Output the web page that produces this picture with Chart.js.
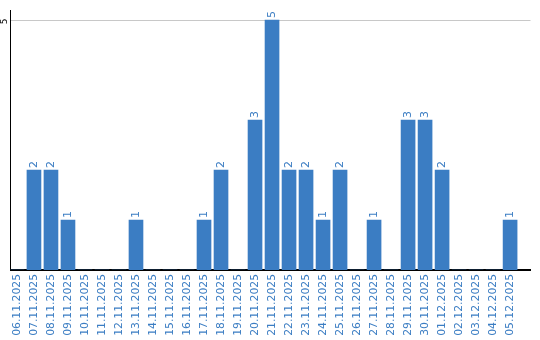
<!DOCTYPE html>
<html>
<head>
<meta charset="utf-8">
<script src="https://cdn.jsdelivr.net/npm/chart.js@4/dist/chart.umd.min.js"></script>
<style>
html,body{margin:0;padding:0;background:#fff;}
canvas{display:block;}
</style>
</head>
<body>
<canvas id="c" width="540" height="340"></canvas>
<script>
const categories = ["06.11.2025","07.11.2025","08.11.2025","09.11.2025","10.11.2025","11.11.2025","12.11.2025","13.11.2025","14.11.2025","15.11.2025","16.11.2025","17.11.2025","18.11.2025","19.11.2025","20.11.2025","21.11.2025","22.11.2025","23.11.2025","24.11.2025","25.11.2025","26.11.2025","27.11.2025","28.11.2025","29.11.2025","30.11.2025","01.12.2025","02.12.2025","03.12.2025","04.12.2025","05.12.2025"];
const values = [0,2,2,1,0,0,0,1,0,0,0,1,2,0,3,5,2,2,1,2,0,1,0,3,3,2,0,0,0,1];
const yTicks = [5];

const BLUE = '#3b7dc3';
const FONT = 'DejaVu Sans';

const valueLabels = {
  id: 'valueLabels',
  afterDatasetsDraw(chart) {
    const ctx = chart.ctx;
    const meta = chart.getDatasetMeta(0);
    ctx.save();
    ctx.fillStyle = BLUE;
    ctx.font = '11px "' + FONT + '"';
    ctx.textAlign = 'left';
    ctx.textBaseline = 'middle';
    meta.data.forEach((el, i) => {
      const v = values[i];
      if (!v) return;
      ctx.save();
      ctx.translate(el.x, el.y - 2);
      ctx.rotate(-Math.PI / 2);
      ctx.fillText(String(v), 0, 0);
      ctx.restore();
    });
    ctx.restore();
  }
};

new Chart(document.getElementById('c'), {
  type: 'bar',
  data: {
    datasets: [{
      data: values.map((v, i) => ({x: i, y: v})),
      backgroundColor: BLUE,
      borderWidth: 0,
      barThickness: 14
    }]
  },
  options: {
    responsive: false,
    animation: false,
    layout: {padding: {top: 10, right: 9.5, left: 0, bottom: 0}},
    plugins: {legend: {display: false}, tooltip: {enabled: false}},
    scales: {
      x: {
        type: 'linear',
        offset: false,
        min: -0.38,
        max: 30.2,
        grid: {display: false, drawTicks: false},
        border: {display: true, color: '#000', width: 2},
        afterBuildTicks(s) { s.ticks = categories.map((_, i) => ({value: i})); },
        afterFit(s) { s.height = 70; },
        ticks: {
          autoSkip: false,
          minRotation: 90,
          maxRotation: 90,
          padding: 4,
          color: BLUE,
          font: {family: FONT, size: 10.8},
          callback: (v) => categories[v]
        }
      },
      y: {
        min: 0,
        max: 5.2,
        grid: {color: '#c8c8c8', lineWidth: 1, drawTicks: false},
        border: {display: true, color: '#000', width: 1},
        afterBuildTicks(s) { s.ticks = yTicks.map(v => ({value: v})); },
        afterFit(s) { s.width = 10.5; },
        ticks: {
          minRotation: 90,
          maxRotation: 90,
          crossAlign: 'center',
          padding: 3,
          labelOffset: 1.5,
          color: '#000',
          font: {family: FONT, size: 9}
        }
      }
    }
  },
  plugins: [valueLabels]
});
</script>
</body>
</html>
